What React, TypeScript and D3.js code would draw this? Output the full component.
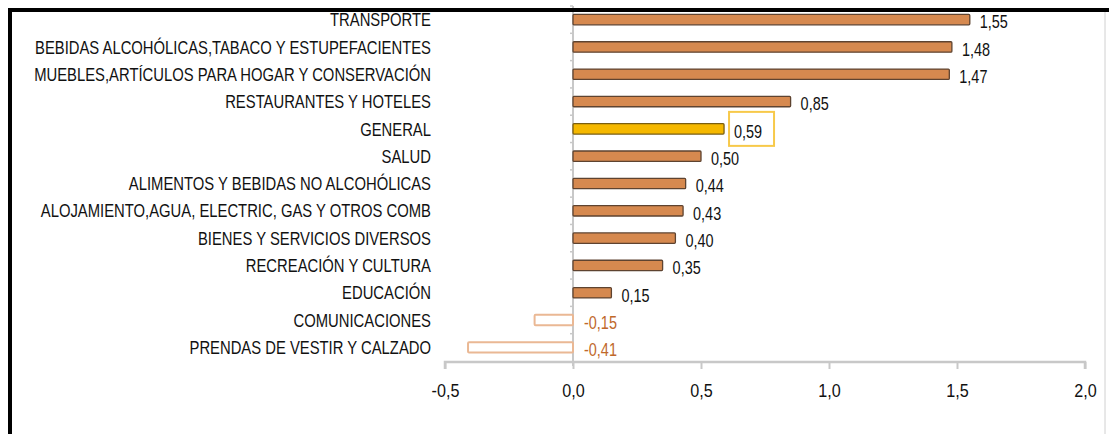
import { useEffect, useRef } from "react"
import * as d3 from "d3"

const CATEGORIES = [
  "TRANSPORTE",
  "BEBIDAS ALCOHÓLICAS,TABACO Y ESTUPEFACIENTES",
  "MUEBLES,ARTÍCULOS PARA HOGAR Y CONSERVACIÓN",
  "RESTAURANTES Y HOTELES",
  "GENERAL",
  "SALUD",
  "ALIMENTOS Y BEBIDAS NO ALCOHÓLICAS",
  "ALOJAMIENTO,AGUA, ELECTRIC, GAS Y OTROS COMB",
  "BIENES Y SERVICIOS DIVERSOS",
  "RECREACIÓN Y CULTURA",
  "EDUCACIÓN",
  "COMUNICACIONES",
  "PRENDAS DE VESTIR Y CALZADO",
]
const VALUES = [1.55, 1.48, 1.47, 0.85, 0.59, 0.5, 0.44, 0.43, 0.4, 0.35, 0.15, -0.15, -0.41]
const X_TICKS = [-0.5, 0, 0.5, 1, 1.5, 2]
const HIGHLIGHT = "GENERAL"

const W = 1109
const H = 434
const FONT = "'Liberation Sans', Arial, sans-serif"

const fmt = (v: number, d: number) => v.toFixed(d).replace(".", ",")

// squeeze texts horizontally, the original uses a narrow font
function condense(sel: any, k: number) {
  sel.each(function (this: SVGTextElement) {
    const w = this.getComputedTextLength()
    this.setAttribute("textLength", String(w * k))
    this.setAttribute("lengthAdjust", "spacingAndGlyphs")
  })
}

export default function App() {
  const svgRef = useRef<SVGSVGElement>(null)

  useEffect(() => {
    const svg = d3.select(svgRef.current)
    svg.selectAll("*").remove()

    const x = d3.scaleLinear().domain([-0.5, 2]).range([445, 1085])
    const y = d3.scaleBand().domain(CATEGORIES).range([6, 361]).paddingInner(0.62).paddingOuter(0.31)
    const band = d3.scaleBand().domain(CATEGORIES).range([6, 361])

    svg.append("rect").attr("width", W).attr("height", H).attr("fill", "white")

    // y axis line + minor ticks between categories
    const x0 = x(0)
    svg.append("line")
      .attr("x1", x0).attr("x2", x0).attr("y1", 6).attr("y2", 366)
      .attr("stroke", "#c8c8c8").attr("stroke-width", 2)
    svg.selectAll(".ytick")
      .data(CATEGORIES)
      .join("line")
      .attr("x1", x0 - 3).attr("x2", x0)
      .attr("y1", d => band(d)!).attr("y2", d => band(d)!)
      .attr("stroke", "#c8c8c8").attr("stroke-width", 1.5)

    // x axis
    const xa = svg.append("g").attr("transform", "translate(0,362)")
      .call(d3.axisBottom(x).tickValues(X_TICKS).tickSize(7).tickFormat(d => fmt(+d, 1)))
    xa.select(".domain").attr("stroke", "#c8c8c8").attr("stroke-width", 2.5)
      .attr("d", `M${x(-0.5)},7V0H${x(2)}V7`)
    xa.selectAll(".tick line").attr("stroke", "#c8c8c8").attr("stroke-width", 2)
    const tickText = xa.selectAll(".tick text")
      .attr("font-family", FONT).attr("font-size", 19).attr("fill", "#111")
      .attr("y", 29).attr("dy", "0.32em")
    condense(tickText, 0.85)

    // bars
    svg.selectAll(".bar")
      .data(VALUES)
      .join("rect")
      .attr("x", v => Math.min(x(v), x0))
      .attr("width", v => Math.abs(x(v) - x0))
      .attr("y", (_, i) => y(CATEGORIES[i])!)
      .attr("height", y.bandwidth())
      .attr("rx", 1)
      .attr("fill", (v, i) => v < 0 ? "white" : CATEGORIES[i] === HIGHLIGHT ? "#f5b800" : "#d6894f")
      .attr("stroke", (v, i) => v < 0 ? "#eab894" : CATEGORIES[i] === HIGHLIGHT ? "#7a5e10" : "#5e4330")
      .attr("stroke-width", v => v < 0 ? 2 : 1.3)

    // category labels
    const cats = svg.selectAll(".cat")
      .data(CATEGORIES)
      .join("text")
      .attr("x", 431)
      .attr("y", d => y(d)! + y.bandwidth() / 2)
      .attr("dy", "0.36em")
      .attr("text-anchor", "end")
      .attr("font-family", FONT).attr("font-size", 18.5)
      .attr("fill", "#111")
      .text(d => d)
    const longest = (cats.nodes()[1] as SVGTextElement).getComputedTextLength()
    condense(cats, 396 / longest)

    // value labels
    const vals = svg.selectAll(".val")
      .data(VALUES)
      .join("text")
      .attr("x", v => v < 0 ? x0 + 11 : x(v) + 10)
      .attr("y", (_, i) => y(CATEGORIES[i])! + y.bandwidth() / 2 + 2)
      .attr("dy", "0.36em")
      .attr("font-family", FONT).attr("font-size", 19)
      .attr("fill", v => v < 0 ? "#c0682a" : "#111")
      .text(v => fmt(v, 2))
    condense(vals, 0.76)

    // box around highlighted label
    const hi = CATEGORIES.indexOf(HIGHLIGHT)
    const hx = x(VALUES[hi]) + 5
    const hy = y(HIGHLIGHT)! + y.bandwidth() / 2
    svg.append("rect")
      .attr("x", hx).attr("y", hy - 17).attr("width", 45).attr("height", 34)
      .attr("fill", "none").attr("stroke", "#f7c94a").attr("stroke-width", 2)

    // frame
    svg.append("line").attr("x1", 1105).attr("x2", 1105).attr("y1", 11).attr("y2", H)
      .attr("stroke", "#d0d0d0").attr("stroke-width", 1)
    svg.append("path")
      .attr("d", `M10,${H}V10H${W}`)
      .attr("fill", "none").attr("stroke", "black").attr("stroke-width", 4)
  }, [])

  return (
    <svg ref={svgRef} width={W} height={H}
      style={{ position: "absolute", left: 0, top: 0, display: "block" }} />
  )
}
